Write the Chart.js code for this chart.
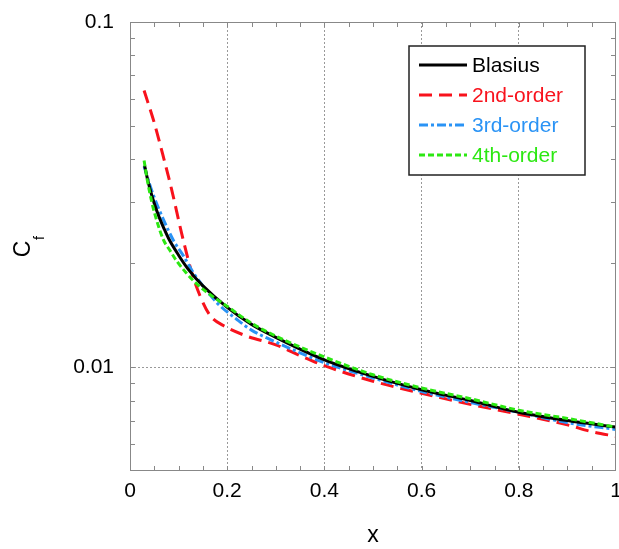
<!DOCTYPE html>
<html>
<head>
<meta charset="utf-8">
<script src="https://cdn.jsdelivr.net/npm/chart.js@4/dist/chart.umd.min.js"></script>
<style>
  html, body { margin: 0; padding: 0; background: #fff; }
  #wrap { width: 619px; height: 549px; }
</style>
</head>
<body>
<div id="wrap"><canvas id="chart" width="619" height="549"></canvas></div>
<script>
'use strict';

// values
let blasiusX = [0.03, 0.035, 0.04, 0.05, 0.06, 0.07, 0.08, 0.1, 0.12, 0.15, 0.2, 0.25, 0.3, 0.4, 0.5, 0.6, 0.7, 0.8, 0.9, 1.0];
let blasiusCf = [0.0384, 0.0356, 0.0333, 0.0298, 0.0272, 0.0252, 0.0235, 0.0211, 0.0192, 0.0172, 0.0149, 0.0133, 0.0122, 0.0105, 0.0094, 0.0086, 0.0080, 0.0074, 0.0070, 0.0067];

let secondX = [0.029, 0.05, 0.07, 0.0857, 0.106, 0.127, 0.144, 0.165, 0.192, 0.24, 0.3, 0.35, 0.4, 0.5, 0.6, 0.7, 0.8, 0.9, 0.95, 1.0];
let secondCf = [0.0633, 0.051, 0.040, 0.0327, 0.0245, 0.0188, 0.0161, 0.0141, 0.0132, 0.0123, 0.0116, 0.0108, 0.0101, 0.0091, 0.0084, 0.0078, 0.0073, 0.0068, 0.0065, 0.0063];

let thirdX = [0.029, 0.04, 0.05, 0.0686, 0.09, 0.11, 0.13, 0.15, 0.18, 0.2195, 0.25, 0.29, 0.35, 0.4, 0.5, 0.6, 0.7, 0.8, 0.9, 1.0];
let thirdCf = [0.0382, 0.0340, 0.0310, 0.0268, 0.0232, 0.0210, 0.0188, 0.0172, 0.0153, 0.01376, 0.0128, 0.0120, 0.0110, 0.0103, 0.0093, 0.0085, 0.0079, 0.0074, 0.0069, 0.0066];

let fourthX = [0.029, 0.035, 0.045, 0.055, 0.0686, 0.082, 0.096, 0.115, 0.134, 0.16, 0.2, 0.25, 0.3, 0.4, 0.5, 0.6, 0.7, 0.8, 0.9, 1.0];
let fourthCf = [0.0397, 0.0352, 0.0300, 0.0266, 0.0234, 0.0218, 0.0203, 0.0188, 0.0176, 0.0164, 0.0150, 0.0134, 0.0123, 0.0107, 0.0095, 0.0087, 0.0081, 0.0075, 0.0071, 0.0067];

let seriesNames = ['Blasius', '2nd-order', '3rd-order', '4th-order'];
let xTickLabels = ['0', '0.2', '0.4', '0.6', '0.8', '1'];
let yTickLabels = ['0.01', '0.1'];
let yMajorTicks = [0.01, 0.1];
let yMinorTicks = [0.006, 0.007, 0.008, 0.009, 0.02, 0.03, 0.04, 0.05, 0.06, 0.07, 0.08, 0.09];

const FONT = '"Liberation Sans", Arial, Helvetica, sans-serif';

function toPoints(xs, ys) {
    return xs.map((x, i) => ({ x: x, y: ys[i] }));
}

function lineSet(label, xs, ys, color, dash, order) {
    return {
        label: label,
        data: toPoints(xs, ys),
        showLine: true,
        borderColor: color,
        backgroundColor: color,
        borderWidth: 3,
        borderDash: dash,
        borderCapStyle: 'butt',
        pointRadius: 0,
        cubicInterpolationMode: 'monotone',
        order: order
    };
}

// frame, inner ticks, y title and the boxed legend
const framePlugin = {
    id: 'frame',
    afterDatasetsDraw(chart) {
        const ctx = chart.ctx;
        const a = chart.chartArea;
        const xs = chart.scales.x;
        const ys = chart.scales.y;
        ctx.save();
        ctx.strokeStyle = '#888';
        ctx.lineWidth = 1;
        ctx.strokeRect(a.left + 0.5, a.top + 0.5, a.right - a.left - 1, a.bottom - a.top - 1);

        ctx.beginPath();
        for (let i = 1; i < 20; i++) {
            const px = Math.round(xs.getPixelForValue(i * 0.05)) + 0.5;
            ctx.moveTo(px, a.bottom);
            ctx.lineTo(px, a.bottom - 5);
            ctx.moveTo(px, a.top);
            ctx.lineTo(px, a.top + 5);
        }
        yMinorTicks.concat(yMajorTicks).forEach(v => {
            const py = Math.round(ys.getPixelForValue(v)) + 0.5;
            ctx.moveTo(a.left, py);
            ctx.lineTo(a.left + 5, py);
            ctx.moveTo(a.right, py);
            ctx.lineTo(a.right - 5, py);
        });
        ctx.stroke();

        // y title C_f
        ctx.fillStyle = '#000';
        ctx.translate(24, 249);
        ctx.rotate(-Math.PI / 2);
        ctx.textAlign = 'center';
        ctx.textBaseline = 'middle';
        ctx.font = '23px ' + FONT;
        ctx.fillText('C', 0, 0);
        ctx.font = '14px ' + FONT;
        ctx.fillText('f', 11, 16);
        ctx.restore();

        // legend
        ctx.save();
        const bx = a.right - 207, by = a.top + 24, bw = 176, bh = 129;
        ctx.fillStyle = '#fff';
        ctx.fillRect(bx, by, bw, bh);
        ctx.strokeStyle = '#222';
        ctx.lineWidth = 1.5;
        ctx.strokeRect(bx, by, bw, bh);
        ctx.font = '21px ' + FONT;
        ctx.textBaseline = 'middle';
        seriesNames.forEach((name, i) => {
            const ds = chart.data.datasets.find(d => d.label === name);
            const ly = by + 19 + i * 30;
            ctx.strokeStyle = ds.borderColor;
            ctx.lineWidth = 3;
            ctx.setLineDash(ds.borderDash);
            ctx.beginPath();
            ctx.moveTo(bx + 10, ly);
            ctx.lineTo(bx + 58, ly);
            ctx.stroke();
            ctx.setLineDash([]);
            ctx.fillStyle = ds.borderColor;
            ctx.fillText(name, bx + 63, ly + 1);
        });
        ctx.restore();
    }
};

const canvasEl = document.getElementById('chart');

const chartObject = new Chart(canvasEl, {
    type: 'scatter',
    data: {
        datasets: [
            lineSet(seriesNames[0], blasiusX, blasiusCf, '#000000', [], 2),
            lineSet(seriesNames[1], secondX, secondCf, '#f8121c', [13, 7], 4),
            lineSet(seriesNames[2], thirdX, thirdCf, '#2a93f5', [9, 3, 3, 3], 3),
            lineSet(seriesNames[3], fourthX, fourthCf, '#2ce812', [6, 3], 1)
        ]
    },
    options: {
        responsive: false,
        animation: false,
        layout: { padding: { top: 22, right: 3, left: 0, bottom: 0 }, autoPadding: false },
        plugins: {
            legend: { display: false },
            tooltip: { enabled: false }
        },
        scales: {
            x: {
                type: 'linear',
                min: 0,
                max: 1,
                afterFit(scale) {
                    scale.height = 78;
                    scale.paddingLeft = 0;
                    scale.paddingRight = 0;
                },
                grid: {
                    drawTicks: false,
                    color: ctx => (ctx.tick && ctx.tick.value > 0.01 && ctx.tick.value < 0.99) ? '#999' : 'rgba(0,0,0,0)',
                    lineWidth: 1
                },
                border: { display: false, dash: [2, 2] },
                ticks: {
                    stepSize: 0.2,
                    padding: 8,
                    color: '#000',
                    font: { family: FONT, size: 21 },
                    callback: (v, i) => xTickLabels[i]
                },
                title: {
                    display: true,
                    text: 'x',
                    color: '#000',
                    font: { family: FONT, size: 23 },
                    padding: { top: 0, bottom: 0 }
                }
            },
            y: {
                type: 'logarithmic',
                min: 0.005,
                max: 0.1,
                afterFit(scale) {
                    scale.width = 130;
                    scale.paddingTop = 0;
                    scale.paddingBottom = 0;
                },
                afterBuildTicks(scale) {
                    scale.ticks = yMajorTicks.map(v => ({ value: v }));
                },
                grid: {
                    drawTicks: false,
                    color: ctx => (ctx.tick && ctx.tick.value === 0.01) ? '#999' : 'rgba(0,0,0,0)',
                    lineWidth: 1
                },
                border: { display: false, dash: [2, 2] },
                ticks: {
                    padding: 16,
                    color: '#000',
                    font: { family: FONT, size: 21 },
                    callback: (v, i) => yTickLabels[i]
                }
            }
        }
    },
    plugins: [framePlugin]
});
</script>
</body>
</html>
